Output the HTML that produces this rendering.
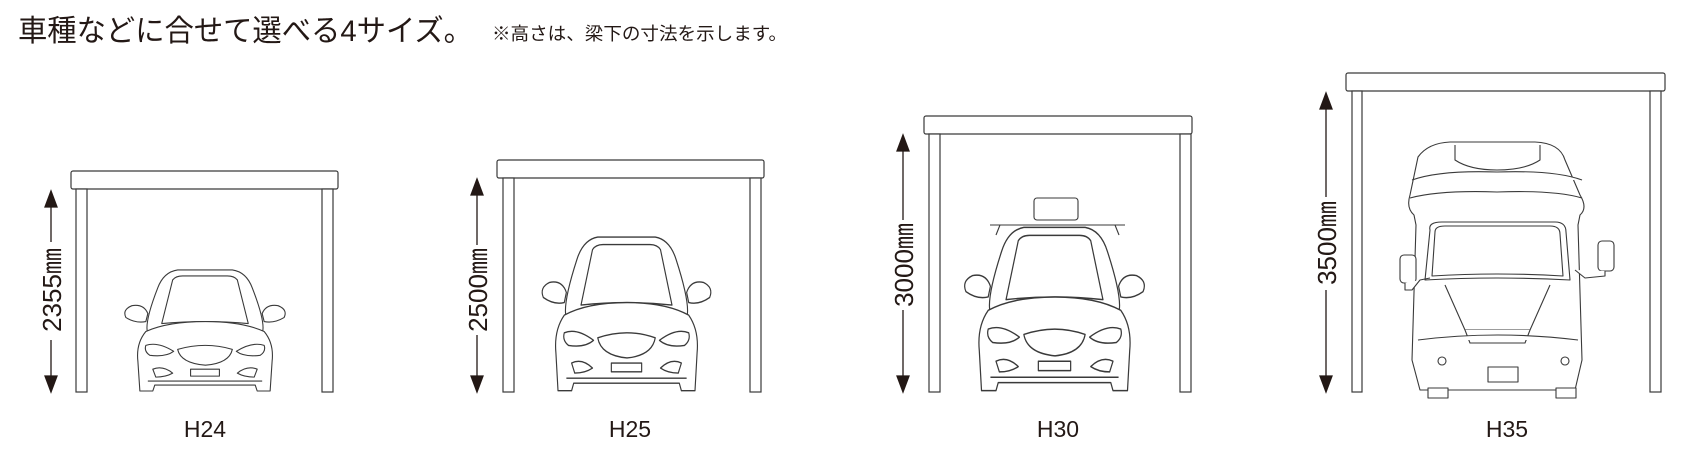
<!DOCTYPE html>
<html><head><meta charset="utf-8"><style>
html,body{margin:0;padding:0;background:#fff;}
svg{display:block}
text{font-family:"Liberation Sans","Noto Sans CJK JP",sans-serif;fill:#231815}
</style></head><body>
<svg width="1683" height="462" viewBox="0 0 1683 462" xmlns="http://www.w3.org/2000/svg">
<defs>
<symbol id="car" viewBox="0 0 175 127" preserveAspectRatio="none" overflow="visible">
<g fill="#fff" stroke="#3a3a3a" stroke-width="1.1" stroke-linejoin="round">
<path d="M30,68 Q26,58 40,22 Q46,6 60,4 L115,4 Q129,6 135,22 Q149,58 145,68"/>
<path d="M44,58 L55,14 Q58,10 65,10 L110,10 Q117,10 120,14 L131,58 Q88,54 44,58Z"/>
<path d="M8,52 Q4,44 14,40 Q26,38 30,48 L28,56 Q18,58 8,52Z"/>
<path d="M167,52 Q171,44 161,40 Q149,38 145,48 L147,56 Q157,58 167,52Z"/>
<path d="M22,126 L20,96 Q18,78 28,66 Q50,56 88,56 Q125,56 147,66 Q157,78 155,96 L153,126 L140,126 L138,120 L37,120 L35,126Z"/>
<path d="M28,80 Q40,76 56,86 Q48,92 32,90 Q26,86 28,80Z"/>
<path d="M147,80 Q135,76 119,86 Q127,92 143,90 Q149,86 147,80Z"/>
<path d="M60,84 Q88,76 115,84 Q112,98 88,100 Q63,98 60,84Z"/>
<path d="M35,104 Q45,100 55,108 Q48,112 38,112Z"/>
<path d="M140,104 Q130,100 120,108 Q127,112 137,112Z"/>
<rect x="73" y="104" width="29" height="7"/>
<path d="M30,116 L145,116"/>
</g>
</symbol>
</defs>

<text x="18" y="41" font-size="30" textLength="455" lengthAdjust="spacingAndGlyphs">車種などに合せて選べる4サイズ。</text>
<text x="492" y="40" font-size="18" textLength="295" lengthAdjust="spacingAndGlyphs">※高さは、梁下の寸法を示します。</text>

<g fill="#fff" stroke="#3a3a3a" stroke-width="1.2">
<rect x="71" y="171" width="267" height="18" rx="2"/>
<rect x="76" y="189" width="11" height="203"/>
<rect x="322" y="189" width="11" height="203"/>
<rect x="497" y="160" width="267" height="18" rx="2"/>
<rect x="503" y="178" width="11" height="214"/>
<rect x="750" y="178" width="11" height="214"/>
<rect x="924" y="116" width="268" height="18" rx="2"/>
<rect x="929" y="134" width="11" height="258"/>
<rect x="1180" y="134" width="11" height="258"/>
<rect x="1346" y="73" width="319" height="18" rx="2"/>
<rect x="1352" y="91" width="10" height="301"/>
<rect x="1650" y="91" width="11" height="301"/>
</g>

<use href="#car" x="118" y="266" width="174" height="126"/>
<use href="#car" x="535" y="232" width="183" height="160"/>
<g fill="#fff" stroke="#3a3a3a" stroke-width="1.1">
<rect x="1034" y="198" width="44" height="22" rx="3"/>
<path d="M990,225 L1125,225 M1000,225 L996,235 M1115,225 L1119,235"/>
</g>
<use href="#car" x="957" y="222" width="195" height="170"/>

<g fill="#fff" stroke="#3a3a3a" stroke-width="1.1" stroke-linejoin="round">
<path d="M1418,157 Q1428,143 1450,142 L1535,142 Q1560,143 1565,160 L1580,195 Q1588,208 1580,215 L1578,225 L1582,360 L1575,390 L1420,390 L1412,360 L1416,225 L1414,215 Q1406,208 1410,195Z"/>
<path d="M1455,145 L1455,160 Q1470,170 1497,170 Q1525,170 1540,160 L1540,145"/>
<path d="M1412,180 Q1440,170 1497,172 Q1555,170 1582,180 M1410,198 Q1440,190 1497,192 Q1555,190 1582,198"/>
<path d="M1430,230 Q1428,222 1442,222 L1555,222 Q1566,222 1566,232 L1570,280 Q1497,276 1425,280Z"/>
<path d="M1435,232 Q1435,226 1445,226 L1550,226 Q1560,226 1560,234 L1563,276 Q1497,272 1432,276Z"/>
<path d="M1445,285 L1465,330 L1530,330 L1550,285"/>
<path d="M1465,330 L1470,343 L1525,343 L1530,330"/>
<path d="M1418,340 Q1497,330 1578,340"/>
<rect x="1488" y="367" width="30" height="15"/>
<circle cx="1442" cy="361" r="4"/><circle cx="1565" cy="361" r="4"/>
<rect x="1400" y="255" width="16" height="28" rx="4"/>
<rect x="1598" y="241" width="16" height="30" rx="4"/>
<path d="M1405,283 L1405,290 L1412,290 L1420,280 L1430,278 M1605,271 L1605,276 L1585,278 L1575,270"/>
<rect x="1428" y="388" width="20" height="10"/><rect x="1556" y="388" width="20" height="10"/>
</g>

<g stroke="#231815" stroke-width="1.3" fill="#231815">
<line x1="51" y1="200" x2="51" y2="242"/><line x1="51" y1="340" x2="51" y2="382"/>
<path d="M45,207 L51,191 L57,207Z"/><path d="M45,376 L51,392 L57,376Z"/>
<line x1="477" y1="188" x2="477" y2="245"/><line x1="477" y1="335" x2="477" y2="382"/>
<path d="M471,195 L477,179 L483,195Z"/><path d="M471,376 L477,392 L483,376Z"/>
<line x1="903" y1="144" x2="903" y2="220"/><line x1="903" y1="310" x2="903" y2="382"/>
<path d="M897,151 L903,135 L909,151Z"/><path d="M897,376 L903,392 L909,376Z"/>
<line x1="1326" y1="102" x2="1326" y2="197"/><line x1="1326" y1="290" x2="1326" y2="382"/>
<path d="M1320,109 L1326,93 L1332,109Z"/><path d="M1320,376 L1326,392 L1332,376Z"/>
</g>
<g font-size="26">
<text transform="translate(61,290) rotate(-90)" text-anchor="middle">2355㎜</text>
<text transform="translate(487,290) rotate(-90)" text-anchor="middle">2500㎜</text>
<text transform="translate(913,265) rotate(-90)" text-anchor="middle">3000㎜</text>
<text transform="translate(1336,243) rotate(-90)" text-anchor="middle">3500㎜</text>
</g>
<g font-size="23" text-anchor="middle">
<text x="205" y="437">H24</text>
<text x="630" y="437">H25</text>
<text x="1058" y="437">H30</text>
<text x="1507" y="437">H35</text>
</g>
</svg>
</body></html>
